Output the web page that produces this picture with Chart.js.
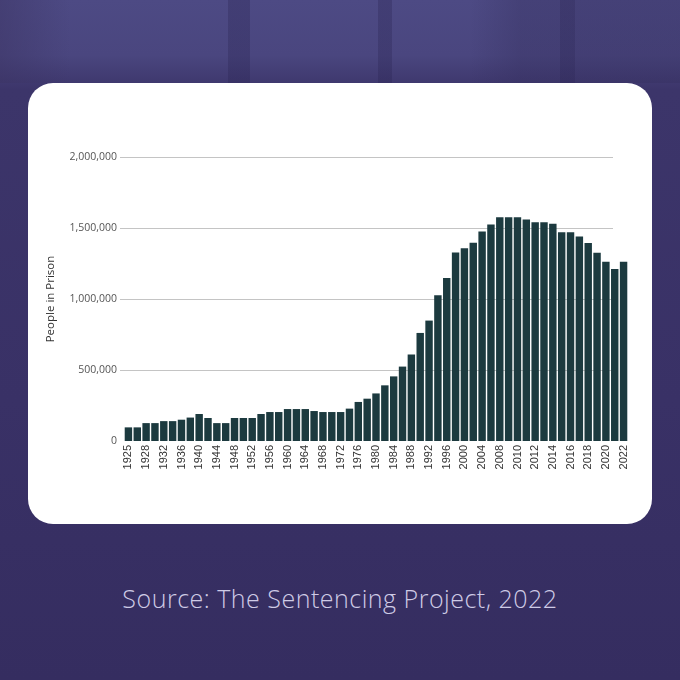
<!DOCTYPE html>
<html>
<head>
<meta charset="utf-8">
<script src="https://cdn.jsdelivr.net/npm/chart.js@4"></script>
<style>
  html, body { margin: 0; padding: 0; }
  body {
    width: 680px; height: 680px; position: relative; overflow: hidden;
    background:
      linear-gradient(90deg, rgba(40,34,80,0) 0px, rgba(40,34,80,0) 228px, rgba(40,34,80,.3) 228px, rgba(40,34,80,.3) 250px, rgba(40,34,80,0) 250px,
        rgba(40,34,80,0) 378px, rgba(40,34,80,.3) 378px, rgba(40,34,80,.3) 392px, rgba(40,34,80,0) 392px,
        rgba(40,34,80,0) 560px, rgba(40,34,80,.25) 560px, rgba(40,34,80,.25) 575px, rgba(40,34,80,0) 575px) 0 0 / 680px 83px no-repeat,
      linear-gradient(90deg, rgba(60,52,100,.5) 0px, rgba(60,52,100,0) 70px, rgba(60,52,100,0) 470px, rgba(50,44,90,.3) 520px) 0 0 / 680px 83px no-repeat,
      linear-gradient(180deg, #4d4a84 0px, #4a467f 55px, #3c356a 90px, #393166 400px, #352d60 680px);
  }
  #card {
    position: absolute; left: 28px; top: 83px; width: 624px; height: 441px;
    background: #fff; border-radius: 25px;
  }
  #chart { position: absolute; left: 0; top: 0; }
  #source {
    position: absolute; left: 0; width: 680px; top: 581px; text-align: center;
    font-family: "Open Sans", sans-serif; font-weight: 300; font-size: 25px;
    color: #cfcbe6; letter-spacing: 0.5px;
  }
</style>
</head>
<body>
<div id="card"><canvas id="chart" width="624" height="441"></canvas></div>
<div id="source">Source: The Sentencing Project, 2022</div>
<script>
// Years shown on the x axis (label printed on every other bar)
const years = [
  1925, 1926, 1928, 1930, 1932, 1934, 1936, 1938, 1940, 1942, 1944, 1946,
  1948, 1950, 1952, 1954, 1956, 1958, 1960, 1962, 1964, 1966, 1968, 1970,
  1972, 1974, 1976, 1978, 1980, 1982, 1984, 1986, 1988, 1990, 1992, 1994,
  1996, 1998, 2000, 2002, 2004, 2006, 2008, 2009, 2010, 2011, 2012, 2013,
  2014, 2015, 2016, 2017, 2018, 2019, 2020, 2021, 2022
];

// People in prison
const prisoners = [
  96000, 96000, 126000, 126000, 140000, 140000, 150000, 165000, 190000, 162000, 126000, 126000,
  162000, 162000, 162000, 190000, 204000, 204000, 225000, 225000, 225000, 211000, 204000, 204000,
  204000, 228000, 275000, 298000, 335000, 392000, 455000, 524000, 609000, 761000, 848000, 1027000,
  1148000, 1328000, 1357000, 1397000, 1475000, 1525000, 1575000, 1575000, 1575000, 1560000, 1540000, 1540000,
  1530000, 1470000, 1470000, 1440000, 1395000, 1325000, 1262000, 1212000, 1262000
];

const yTicks = [0, 500000, 1000000, 1500000, 2000000];

// gridlines that stop short of the last bars, like the original
const shortGrid = {
  id: "shortGrid",
  beforeDatasetsDraw(chart) {
    const { ctx, chartArea } = chart;
    const y = chart.scales.y;
    ctx.save();
    ctx.strokeStyle = "#c4c4c4";
    ctx.lineWidth = 1;
    yTicks.forEach(v => {
      if (v === 0) return;
      const py = Math.round(y.getPixelForValue(v)) + 0.5;
      ctx.beginPath();
      ctx.moveTo(chartArea.left - 4, py);
      ctx.lineTo(chartArea.right - 15, py);
      ctx.stroke();
    });
    ctx.restore();
  }
};

new Chart(document.getElementById("chart").getContext("2d"), {
  type: "bar",
  data: {
    labels: years.map(String),
    datasets: [{
      label: "People in Prison",
      data: prisoners,
      backgroundColor: "#1c3a3f",
      categoryPercentage: 1,
      barPercentage: 0.84
    }]
  },
  options: {
    responsive: false,
    animation: false,
    layout: { padding: { left: 12, right: 24, top: 74, bottom: 23 } },
    plugins: {
      legend: { display: false },
      tooltip: { enabled: false }
    },
    scales: {
      x: {
        grid: { display: false, drawTicks: false },
        border: { display: false },
        afterFit: s => { s.height = 60; },
        ticks: {
          autoSkip: false,
          maxRotation: 90,
          minRotation: 90,
          padding: 4,
          color: "#333",
          font: { family: "Liberation Sans", size: 11 },
          callback: (v, i) => (i % 2 === 0 ? years[i] : "")
        }
      },
      y: {
        min: 0,
        max: 2000000,
        afterFit: s => { s.width = 84; },
        afterBuildTicks: s => { s.ticks = yTicks.map(v => ({ value: v })); },
        grid: { display: false, drawTicks: false },
        border: { display: false },
        title: {
          display: true,
          text: "People in Prison",
          color: "#333",
          font: { family: "Open Sans", size: 11.5 }
        },
        ticks: {
          padding: 7,
          color: "#555",
          font: { family: "Open Sans", size: 10.5 },
          callback: v => v.toLocaleString("en-US")
        }
      }
    }
  },
  plugins: [shortGrid]
});
</script>
</body>
</html>
